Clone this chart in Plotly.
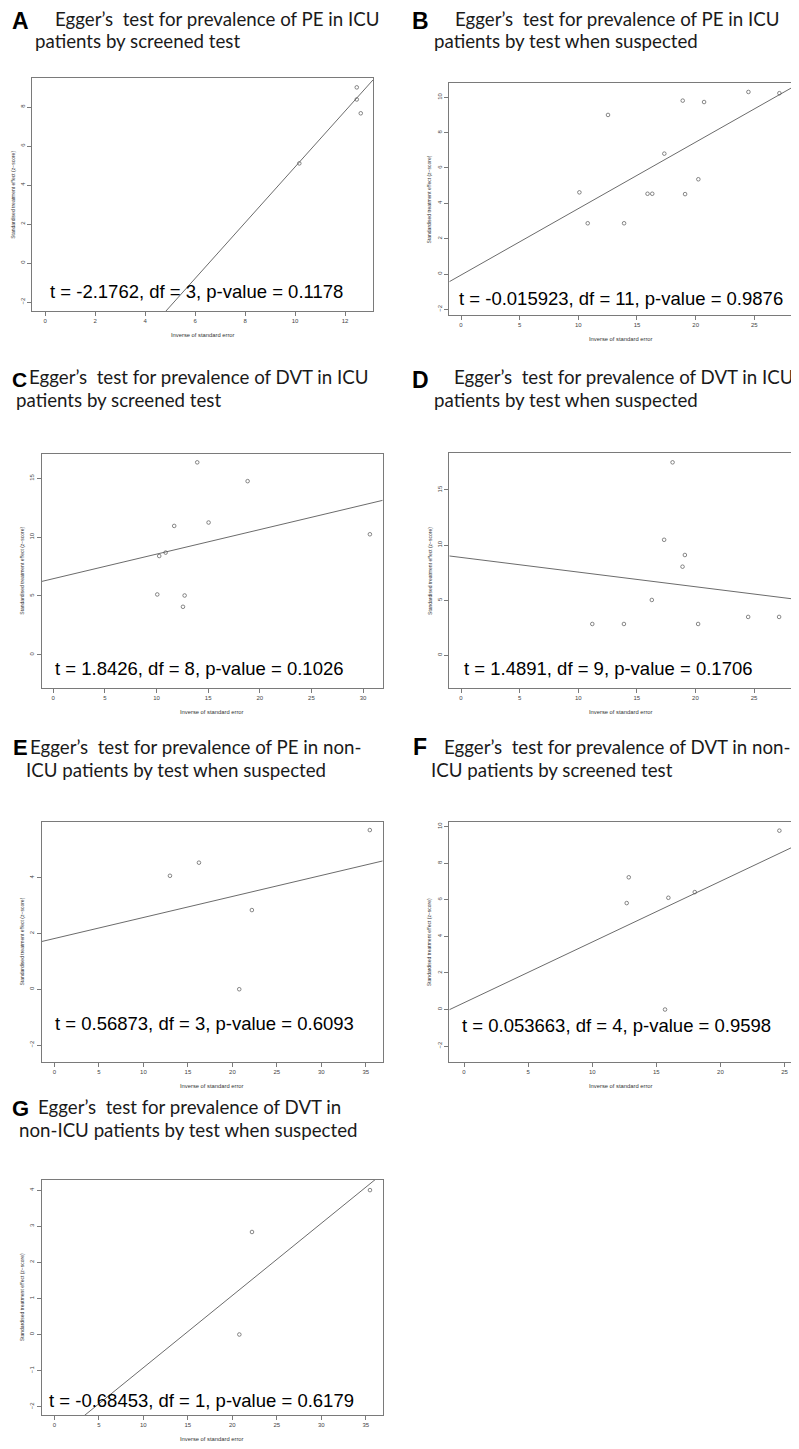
import plotly.graph_objects as go

W, H = 799, 1449
OFF = 8  # default page body margin of the written html

# ---------------- data ----------------
panel_letters = ["A", "B", "C", "D", "E", "F", "G"]
title_line1 = [
    "Egger\u2019s  test for prevalence of PE in ICU",
    "Egger\u2019s  test for prevalence of PE in ICU",
    "Egger\u2019s  test for prevalence of DVT in ICU",
    "Egger\u2019s  test for prevalence of DVT in ICU",
    "Egger\u2019s  test for prevalence of PE in non-",
    "Egger\u2019s  test for prevalence of DVT in non-",
    "Egger\u2019s  test for prevalence of DVT in",
]
title_line2 = [
    "patients by screened test",
    "patients by test when suspected",
    "patients by screened test",
    "patients by test when suspected",
    "ICU patients by test when suspected",
    "ICU patients by screened test",
    "non-ICU patients by test when suspected",
]
stats_text = [
    "t = -2.1762, df = 3, p-value = 0.1178",
    "t = -0.015923, df = 11, p-value = 0.9876",
    "t = 1.8426, df = 8, p-value = 0.1026",
    "t = 1.4891, df = 9, p-value = 0.1706",
    "t = 0.56873, df = 3, p-value = 0.6093",
    "t = 0.053663, df = 4, p-value = 0.9598",
    "t = -0.68453, df = 1, p-value = 0.6179",
]

a_x = [12.47, 12.47, 12.63, 10.17]
a_y = [9.01, 8.39, 7.68, 5.11]
b_x = [10.09, 10.8, 12.53, 13.9, 15.9, 16.3, 17.33, 18.9, 19.1, 20.23, 20.72, 24.5, 27.14]
b_y = [4.62, 2.87, 9.0, 2.87, 4.54, 4.54, 6.81, 9.81, 4.52, 5.36, 9.73, 10.3, 10.23]
c_x = [10.07, 10.26, 10.88, 11.71, 12.56, 12.72, 13.94, 15.04, 18.82, 30.66]
c_y = [5.12, 8.39, 8.68, 10.95, 4.07, 5.03, 16.36, 11.24, 14.76, 10.24]
d_x = [11.2, 13.9, 16.28, 17.33, 18.05, 18.9, 19.1, 20.23, 24.5, 27.14]
d_y = [2.84, 2.84, 5.02, 10.48, 17.51, 8.04, 9.1, 2.84, 3.48, 3.48]
e_x = [12.98, 16.24, 20.77, 22.19, 35.45]
e_y = [4.07, 4.54, 0.0, 2.84, 5.71]
f_x = [12.69, 12.85, 15.68, 15.94, 18.0, 24.6]
f_y = [5.82, 7.23, 0.0, 6.11, 6.42, 9.78]
g_x = [20.79, 22.21, 35.47]
g_y = [0.0, 2.84, 4.0]

reg_intercept = [-9.37, -0.06, 6.46, 8.88, 1.82, 0.37, -2.92]
reg_slope = [1.43, 0.376, 0.209, -0.133, 0.0754, 0.332, 0.20]

x_ranges = [[-0.52, 13.12], [-1.0, 28.3], [-1.12, 31.9], [-1.0, 28.3],
            [-1.44, 36.9], [-1.15, 25.64], [-1.42, 36.9]]
y_ranges = [[-2.46, 9.49], [-2.32, 10.79], [-2.84, 17.07], [-2.97, 18.33],
            [-2.61, 6.01], [-2.87, 10.27], [-2.23, 4.28]]
x_ticks = [list(range(0, 13, 2)), list(range(0, 26, 5)), list(range(0, 31, 5)),
           list(range(0, 26, 5)), list(range(0, 36, 5)), list(range(0, 26, 5)),
           list(range(0, 36, 5))]
y_ticks = [list(range(-2, 9, 2)), list(range(-2, 11, 2)), list(range(0, 16, 5)),
           list(range(0, 16, 5)), list(range(-2, 5, 2)), list(range(-2, 11, 2)),
           list(range(-2, 5, 1))]

xs = [a_x, b_x, c_x, d_x, e_x, f_x, g_x]
ys = [a_y, b_y, c_y, d_y, e_y, f_y, g_y]

# ---------------- layout (pixel frames in the window: left, right, top, bottom) ----------------
frames = [
    (32.3, 373.0, 78.0, 311.0),
    (449.3, 793.0, 83.3, 315.0),
    (41.7, 382.7, 454.0, 688.0),
    (449.3, 792.7, 453.3, 688.0),
    (41.7, 382.7, 821.7, 1062.0),
    (449.3, 792.7, 821.7, 1062.0),
    (41.7, 382.7, 1180.0, 1415.0),
]
# title positions: letter (x, y), line1 (x, y), line2 (x, y)
title_pos = [
    ((10, 21), (53, 19), (33, 41)),
    ((410, 21), (453, 19), (432, 41)),
    ((10, 380), (27, 377), (14, 400)),
    ((410, 380), (452, 377), (432, 400)),
    ((11, 747), (28, 747), (24, 770)),
    ((411, 747), (442, 747), (429, 770)),
    ((10, 1108), (36, 1107), (17, 1130)),
]
letter_size = [23, 23, 21, 23, 22, 23, 22]
stats_pos = [(48, 291), (457, 298), (53, 668), (462, 668), (53, 1023), (460, 1025), (47, 1400)]

PT = "#555555"
LINE = "#5a5a5a"
FRAME = "#7a7a7a"


def px(x):
    return (x - OFF) / W


def py(y):
    return 1 - (y - OFF) / H


fig = go.Figure()
annotations = []
layout = dict(
    width=W, height=H, margin=dict(l=0, r=0, t=0, b=0),
    paper_bgcolor="white", plot_bgcolor="white", showlegend=False,
)

for i in range(7):
    n = i + 1
    xa = "x" if n == 1 else f"x{n}"
    ya = "y" if n == 1 else f"y{n}"
    l, r, t, b = frames[i]
    xr = x_ranges[i]
    fig.add_trace(go.Scatter(
        x=xs[i], y=ys[i], mode="markers", xaxis=xa, yaxis=ya,
        marker=dict(symbol="circle-open", size=3.6, color=PT, line=dict(width=0.7, color=PT)),
        hoverinfo="skip",
    ))
    lx = [xr[0], xr[1]]
    ly = [reg_intercept[i] + reg_slope[i] * v for v in lx]
    fig.add_trace(go.Scatter(
        x=lx, y=ly, mode="lines", xaxis=xa, yaxis=ya,
        line=dict(color=LINE, width=0.9), hoverinfo="skip",
    ))
    axcommon = dict(showline=True, mirror=True, linecolor=FRAME, linewidth=1,
                    ticks="outside", ticklen=4, tickwidth=0.8, tickcolor=FRAME,
                    showgrid=False, zeroline=False,
                    tickfont=dict(family="Liberation Sans", size=6, color="#444444"))
    layout["xaxis" if n == 1 else f"xaxis{n}"] = dict(
        domain=[px(l), px(r)], range=xr, anchor=ya, tickmode="array",
        tickvals=x_ticks[i], **axcommon)
    layout["yaxis" if n == 1 else f"yaxis{n}"] = dict(
        domain=[py(b), py(t)], range=y_ranges[i], anchor=xa, tickmode="array",
        tickvals=y_ticks[i], tickangle=-90, **axcommon)

    # axis titles
    annotations.append(dict(
        x=px((l + r) / 2), y=py(b + 24), xref="paper", yref="paper",
        text="Inverse of standard error", showarrow=False, xanchor="center", yanchor="middle",
        font=dict(family="Liberation Sans", size=5.8, color="#333333")))
    annotations.append(dict(
        x=px(l - 20), y=py((t + b) / 2), xref="paper", yref="paper",
        text="Standardised treatment effect (z\u2212score)", showarrow=False, textangle=-90,
        xanchor="center", yanchor="middle",
        font=dict(family="Liberation Sans", size=5, color="#333333")))

    # titles
    (lx0, ly0), (t1x, t1y), (t2x, t2y) = title_pos[i]
    annotations.append(dict(
        x=px(lx0), y=py(ly0), xref="paper", yref="paper", text=panel_letters[i],
        showarrow=False, xanchor="left", yanchor="middle",
        font=dict(family="Liberation Sans", size=letter_size[i], color="black", weight="bold")))
    annotations.append(dict(
        x=px(t1x), y=py(t1y), xref="paper", yref="paper", text=title_line1[i],
        showarrow=False, xanchor="left", yanchor="middle",
        font=dict(family="Lato", size=18.7, color="#1a1a1a")))
    annotations.append(dict(
        x=px(t2x), y=py(t2y), xref="paper", yref="paper", text=title_line2[i],
        showarrow=False, xanchor="left", yanchor="middle",
        font=dict(family="Lato", size=18.7, color="#1a1a1a")))

    # stats text
    sx, sy = stats_pos[i]
    annotations.append(dict(
        x=px(sx), y=py(sy), xref="paper", yref="paper", text=stats_text[i],
        showarrow=False, xanchor="left", yanchor="middle",
        font=dict(family="Liberation Sans", size=18.5, color="black")))

layout["annotations"] = annotations
fig.update_layout(**layout)
fig.write_html("out.html")
